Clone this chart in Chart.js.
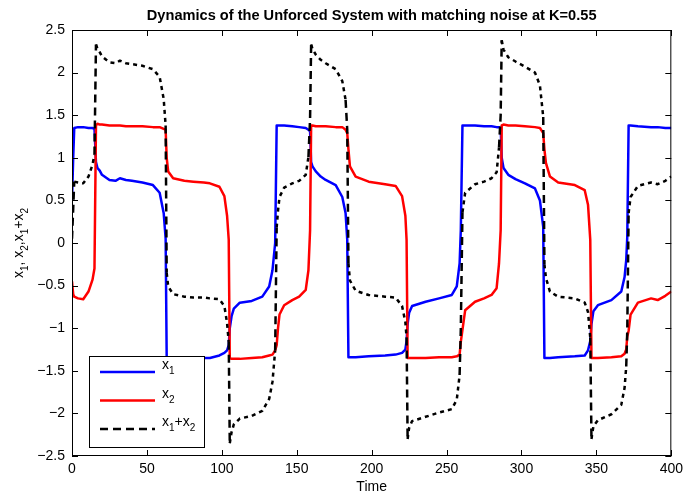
<!DOCTYPE html>
<html>
<head>
<meta charset="utf-8">
<script src="https://cdn.jsdelivr.net/npm/chart.js@4.4.1/dist/chart.umd.min.js"></script>
<style>
  html, body { margin: 0; padding: 0; background: #fff; }
  #wrap { width: 688px; height: 498px; }
</style>
</head>
<body>
<div id="wrap"><canvas id="grafico" width="688" height="498"></canvas></div>
<script>
// Datos (tiempo común para las tres series)
const tiempo = [0, 0.8, 1.5, 4, 7.5, 11, 13.7, 15, 16, 17, 18.5, 20, 25, 29, 32, 36, 40, 47, 54, 58.5, 61.2, 62.5,
  63.2, 64.2, 67.5, 75, 81, 88, 92, 98.4, 101.7, 103.5, 104.6, 105.3, 106.5, 108, 112, 120, 127, 131.6, 133.8, 135.6,
  136.6, 137.5, 138.5, 141.6, 147, 151.6, 156, 157.8, 158.9, 159.6, 160.5, 162.7, 166, 169.3, 176, 180.4, 182.6, 183.7,
  184.5, 185.5, 189.3, 198, 209, 216, 220.3, 222.5, 223.3, 224, 225, 227, 236, 245, 253.5, 256.8, 258.7, 259.5,
  260.6, 262.4, 269, 275, 280, 283.4, 285, 286.1, 286.8, 288, 291.2, 296, 302.3, 309, 312.3, 314.5,
  315.3, 316.3, 319, 324.5, 335.6, 342.2, 344.4, 345.9, 346.7, 348, 351, 360, 366.6, 368.8, 369.9, 370.6,
  371.5, 372.8, 377.7, 386.5, 390.9, 396, 400];

const x1 = [0.50, 1.00, 1.35, 1.36, 1.36, 1.35, 1.35, 1.34, 0.95, 0.88, 0.85, 0.80, 0.74, 0.73, 0.76, 0.74, 0.73, 0.71, 0.68, 0.59, 0.35, 0.05,
  -1.35, -1.35, -1.36, -1.36, -1.36, -1.35, -1.35, -1.32, -1.29, -1.26, -1.20, -1.00, -0.86, -0.77, -0.70, -0.68, -0.63, -0.51, -0.32, 0.00,
  1.38, 1.38, 1.38, 1.38, 1.37, 1.36, 1.35, 1.33, 1.31, 0.95, 0.90, 0.84, 0.78, 0.74, 0.68, 0.54, 0.35, 0.04,
  -1.34, -1.34, -1.34, -1.33, -1.32, -1.31, -1.29, -1.25, -1.15, -0.95, -0.82, -0.74, -0.69, -0.65, -0.61, -0.51, -0.24, 0.15,
  1.38, 1.38, 1.38, 1.37, 1.37, 1.36, 1.36, 1.35, 1.00, 0.88, 0.80, 0.75, 0.70, 0.64, 0.50, 0.19,
  -1.35, -1.35, -1.35, -1.34, -1.33, -1.32, -1.26, -1.15, -0.95, -0.80, -0.73, -0.67, -0.57, -0.40, -0.20, 0.07,
  1.38, 1.38, 1.37, 1.36, 1.36, 1.35, 1.35];

const x2 = [-0.45, -0.60, -0.63, -0.65, -0.66, -0.57, -0.43, -0.30, 1.38, 1.40, 1.39, 1.39, 1.38, 1.38, 1.38, 1.37, 1.37, 1.37, 1.36, 1.36, 1.34, 1.33,
  1.00, 0.84, 0.76, 0.73, 0.72, 0.71, 0.70, 0.66, 0.55, 0.32, 0.04, -1.35, -1.36, -1.36, -1.36, -1.35, -1.34, -1.32, -1.31, -1.26,
  -1.20, -1.00, -0.84, -0.73, -0.67, -0.63, -0.55, -0.32, 0.15, 1.38, 1.38, 1.37, 1.37, 1.37, 1.36, 1.36, 1.33, 1.29,
  1.10, 0.90, 0.78, 0.72, 0.69, 0.67, 0.55, 0.32, 0.04, -1.35, -1.35, -1.35, -1.35, -1.34, -1.34, -1.33, -1.31, -1.16,
  -1.02, -0.79, -0.69, -0.65, -0.61, -0.53, -0.24, 0.15, 1.38, 1.39, 1.38, 1.38, 1.37, 1.36, 1.35, 1.29,
  1.10, 0.94, 0.78, 0.71, 0.68, 0.62, 0.45, 0.04, -1.35, -1.35, -1.35, -1.34, -1.33, -1.30, -1.25, -1.10,
  -1.03, -0.84, -0.70, -0.65, -0.67, -0.62, -0.57];

const suma = [0.05, 0.40, 0.72, 0.71, 0.70, 0.78, 0.92, 1.04, 2.33, 2.28, 2.24, 2.19, 2.12, 2.11, 2.14, 2.11, 2.10, 2.08, 2.04, 1.95, 1.69, 1.38,
  -0.35, -0.51, -0.60, -0.63, -0.64, -0.64, -0.65, -0.66, -0.74, -0.94, -1.16, -2.35, -2.22, -2.13, -2.06, -2.03, -1.97, -1.83, -1.63, -1.26,
  0.18, 0.38, 0.54, 0.65, 0.70, 0.73, 0.80, 1.01, 1.46, 2.33, 2.28, 2.21, 2.15, 2.11, 2.04, 1.90, 1.68, 1.33,
  -0.24, -0.44, -0.56, -0.61, -0.63, -0.64, -0.74, -0.93, -1.11, -2.30, -2.17, -2.09, -2.04, -1.99, -1.95, -1.84, -1.55, -1.01,
  0.36, 0.59, 0.69, 0.72, 0.76, 0.83, 1.12, 1.50, 2.38, 2.27, 2.18, 2.13, 2.07, 2.00, 1.85, 1.48,
  -0.25, -0.41, -0.57, -0.63, -0.65, -0.70, -0.81, -1.11, -2.30, -2.15, -2.08, -2.01, -1.90, -1.70, -1.45, -1.03,
  0.35, 0.54, 0.67, 0.71, 0.69, 0.73, 0.78];

const titulo = 'Dynamics of the Unforced System with matching noise at K=0.55';
const etiquetaX = 'Time';
// partes de texto con subíndices: [texto, esSubindice]
const etiquetaY = [['x', 0], ['1', 1], [', x', 0], ['2', 1], [',x', 0], ['1', 1], ['+x', 0], ['2', 1]];
const leyenda = [
  [['x', 0], ['1', 1]],
  [['x', 0], ['2', 1]],
  [['x', 0], ['1', 1], ['+x', 0], ['2', 1]]
];

const FUENTE = '"Liberation Sans", Arial, sans-serif';

function puntos(ys) {
  return tiempo.map((t, i) => ({ x: t, y: ys[i] }));
}

// Dibuja texto con subíndices a partir de la línea base
function anchoRico(ctx, partes, tam, tamSub) {
  let w = 0;
  partes.forEach(([txt, sub]) => {
    ctx.font = (sub ? tamSub : tam) + 'px ' + FUENTE;
    w += ctx.measureText(txt).width;
  });
  return w;
}
function textoRico(ctx, partes, x, y, tam, tamSub) {
  let cx = x;
  partes.forEach(([txt, sub]) => {
    ctx.font = (sub ? tamSub : tam) + 'px ' + FUENTE;
    ctx.fillText(txt, cx, sub ? y + 5 : y);
    cx += ctx.measureText(txt).width;
  });
}

// Guiones largos en tramos verticales, cortos en tramos casi planos
function guionSegmento(c) {
  const dx = c.p1.parsed.x - c.p0.parsed.x;
  const dy = Math.abs(c.p1.parsed.y - c.p0.parsed.y);
  return dy / dx > 0.25 ? [8, 5] : [4, 4];
}

// Marco estilo MATLAB, ticks hacia dentro, textos y leyenda
const pluginMarco = {
  id: 'marco',
  afterDatasetsDraw(chart) {
    const { ctx, chartArea: a, scales: { x, y } } = chart;
    ctx.save();
    ctx.strokeStyle = '#000';
    ctx.lineWidth = 1;
    ctx.strokeRect(a.left + 0.5, a.top + 0.5, a.right - a.left - 1, a.bottom - a.top - 1);
    const lt = 6;
    ctx.beginPath();
    x.ticks.forEach(t => {
      const px = Math.round(x.getPixelForValue(t.value)) + 0.5;
      ctx.moveTo(px, a.bottom); ctx.lineTo(px, a.bottom - lt);
      ctx.moveTo(px, a.top); ctx.lineTo(px, a.top + lt);
    });
    y.ticks.forEach(t => {
      const py = Math.round(y.getPixelForValue(t.value)) + 0.5;
      ctx.moveTo(a.left, py); ctx.lineTo(a.left + lt, py);
      ctx.moveTo(a.right, py); ctx.lineTo(a.right - lt, py);
    });
    ctx.stroke();

    // título
    ctx.fillStyle = '#000';
    ctx.textAlign = 'center';
    ctx.textBaseline = 'alphabetic';
    ctx.font = 'bold 14.6px ' + FUENTE;
    ctx.fillText(titulo, (a.left + a.right) / 2, 20);
    ctx.font = '14px ' + FUENTE;
    ctx.fillText(etiquetaX, (a.left + a.right) / 2, 491);

    // etiqueta eje Y rotada
    ctx.textAlign = 'left';
    ctx.save();
    ctx.translate(23, (a.top + a.bottom) / 2);
    ctx.rotate(-Math.PI / 2);
    const wy = anchoRico(ctx, etiquetaY, 14, 10);
    textoRico(ctx, etiquetaY, -wy / 2, 0, 14, 10);
    ctx.restore();

    // leyenda
    const bx = 89.5, by = 356.5, bw = 115, bh = 91;
    ctx.fillStyle = '#fff';
    ctx.fillRect(bx, by, bw, bh);
    ctx.strokeStyle = '#000';
    ctx.strokeRect(bx, by, bw, bh);
    chart.data.datasets.forEach((ds, i) => {
      const ly = 372 + i * 28.5;
      ctx.save();
      ctx.strokeStyle = ds.borderColor;
      ctx.lineWidth = ds.borderWidth;
      ctx.setLineDash(ds.borderDash || []);
      ctx.beginPath();
      ctx.moveTo(100, ly);
      ctx.lineTo(155, ly);
      ctx.stroke();
      ctx.restore();
      ctx.fillStyle = '#000';
      textoRico(ctx, leyenda[i], 162, ly - 3, 14, 10);
    });
    ctx.restore();
  }
};

const canvas = document.getElementById('grafico');
new Chart(canvas, {
  type: 'line',
  data: {
    datasets: [
      { label: 'x1', data: puntos(x1), borderColor: '#0000ff', borderWidth: 2.5, order: 3 },
      { label: 'x2', data: puntos(x2), borderColor: '#ff0000', borderWidth: 2.5, order: 2 },
      {
        label: 'x1+x2', data: puntos(suma), borderColor: '#000000', borderWidth: 2.5, borderDash: [8, 5], order: 1,
        segment: { borderDash: guionSegmento }
      }
    ]
  },
  options: {
    responsive: false,
    animation: false,
    elements: {
      point: { radius: 0 },
      line: { tension: 0, fill: false, borderJoinStyle: 'round' }
    },
    layout: { padding: { top: 30, right: 14, left: 0, bottom: 0 } },
    plugins: {
      legend: { display: false },
      title: { display: false },
      tooltip: { enabled: false }
    },
    scales: {
      x: {
        type: 'linear',
        min: 0,
        max: 400,
        grid: { display: false, drawTicks: false },
        border: { display: false },
        afterFit: (s) => { s.height = 42; },
        ticks: {
          stepSize: 50,
          padding: 5,
          color: '#000',
          maxRotation: 0,
          font: { family: FUENTE, size: 14 }
        }
      },
      y: {
        min: -2.5,
        max: 2.5,
        grid: { display: false, drawTicks: false },
        border: { display: false },
        afterFit: (s) => { s.width = 72; },
        ticks: {
          stepSize: 0.5,
          padding: 7,
          color: '#000',
          font: { family: FUENTE, size: 14 },
          callback: (v) => (v < 0 ? '\u2212' + Math.abs(v) : String(v))
        }
      }
    }
  },
  plugins: [pluginMarco]
});
</script>
</body>
</html>
